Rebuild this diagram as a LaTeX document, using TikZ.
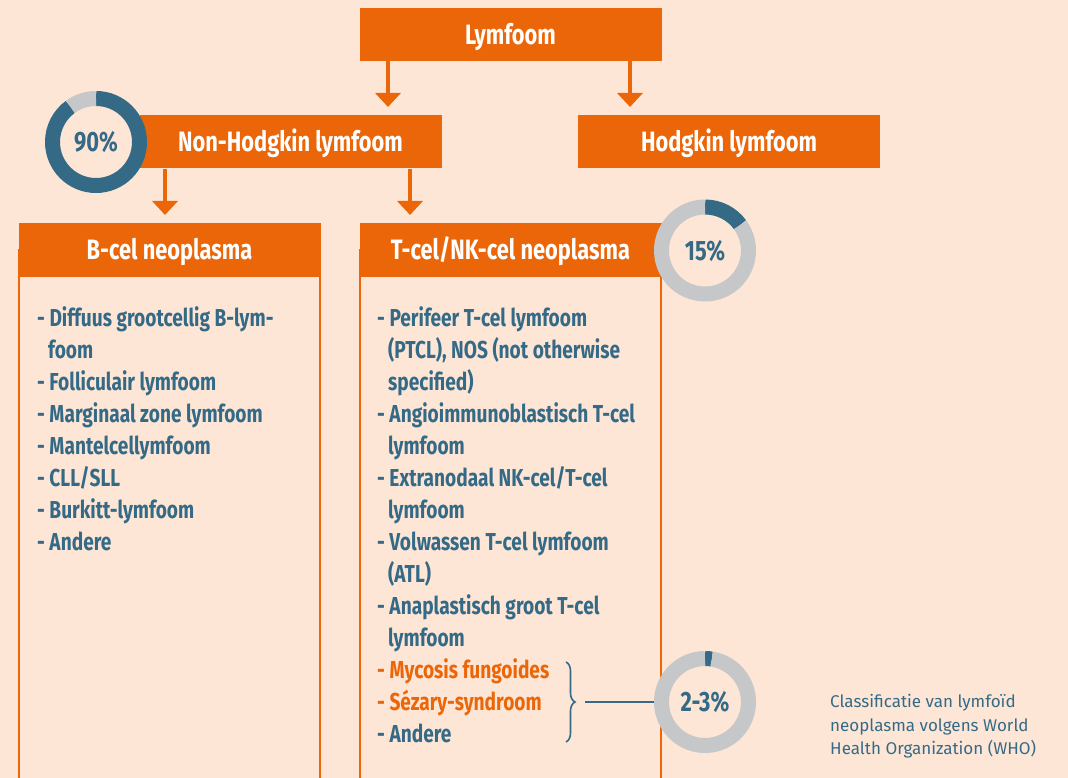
\documentclass[tikz,border=0pt]{standalone}
\usepackage{fontspec}
\setmainfont{Fira Sans}[FakeStretch=0.78]
\newfontfamily\capfont{Fira Sans}
\usetikzlibrary{arrows.meta,decorations.pathreplacing}
\definecolor{bg}{HTML}{FDE6D6}
\definecolor{org}{HTML}{EB6608}
\definecolor{blu}{HTML}{356A87}
\definecolor{gry}{HTML}{C5C7C8}
\tikzset{
  hdr/.style={rectangle, fill=org, text=white, minimum width=302pt, minimum height=53pt, inner sep=0pt,
    text height=19.5pt, text depth=0pt, font=\bfseries\fontsize{28}{32}\selectfont},
  body/.style={draw=org, line width=1.3pt},
  arr/.style={draw=org, line width=4pt, -{Triangle[width=25pt,length=14pt]}},
  lst/.style={anchor=north west, inner sep=0pt, align=left, text=blu,
    font=\bfseries\fontsize{24.5}{32}\selectfont},
  pct/.style={circle, inner sep=0pt, minimum size=102pt, text=blu, text height=19pt, text depth=0pt,
    font=\bfseries\fontsize{28}{30}\selectfont},
  ring/.style={line width=15pt},
}
\begin{document}
\begin{tikzpicture}[x=1pt,y=-1pt]
\useasboundingbox (0,0) rectangle (1068,778);
\clip (0,0) rectangle (1068,778);
\fill[bg] (0,0) rectangle (1068,778);

% body outlines
\draw[body] (19,250) rectangle (320,800);
\draw[body] (360,250) rectangle (661,800);

% header boxes
\node[hdr] (lym) at (510.5,34.5) {Lymfoom};
\node[hdr] (nhl) at (290.5,142) {Non-Hodgkin lymfoom};
\node[hdr] (hl) at (729,142) {Hodgkin lymfoom};
\node[hdr] (bcel) at (169.5,250) {B-cel neoplasma};
\node[hdr] (tcel) at (510.5,250) {T-cel/NK-cel neoplasma};

% arrows
\coordinate (a1) at (388,107);
\coordinate (a2) at (630,107);
\coordinate (a3) at (165,215);
\coordinate (a4) at (410,215);
\draw[arr] (lym.south -| a1) -- (a1);
\draw[arr] (lym.south -| a2) -- (a2);
\draw[arr] (nhl.south -| a3) -- (a3);
\draw[arr] (nhl.south -| a4) -- (a4);

% donuts
\node[pct] (d90) at (96,142) {90\%};
\draw[ring, blu] (d90.center) ++(-90:43.5) arc[start angle=-90, end angle=234, radius=43.5];
\draw[ring, gry] (d90.center) ++(234:43.5) arc[start angle=234, end angle=270, radius=43.5];

\node[pct] (d15) at (705,250.5) {15\%};
\draw[ring, blu] (d15.center) ++(-90:43.5) arc[start angle=-90, end angle=-36, radius=43.5];
\draw[ring, gry] (d15.center) ++(-36:43.5) arc[start angle=-36, end angle=270, radius=43.5];

\node[pct] (d23) at (705,702) {2-3\%};
\draw[ring, blu] (d23.center) ++(-90:43.5) arc[start angle=-90, end angle=-81, radius=43.5];
\draw[ring, gry] (d23.center) ++(-81:43.5) arc[start angle=-81, end angle=270, radius=43.5];

% lists
\node[lst] (blist) at (37,306) {%
- Diffuus grootcellig B-lym-\\
\hspace*{11pt}foom\\
- Folliculair lymfoom\\
- Marginaal zone lymfoom\\
- Mantelcellymfoom\\
- CLL/SLL\\
- Burkitt-lymfoom\\
- Andere};

\node[lst] (tlist) at (377,306) {%
- Perifeer T-cel lymfoom\\
\hspace*{11pt}(PTCL), NOS (not otherwise\\
\hspace*{11pt}specified)\\
- Angioimmunoblastisch T-cel\\
\hspace*{11pt}lymfoom\\
- Extranodaal NK-cel/T-cel\\
\hspace*{11pt}lymfoom\\
- Volwassen T-cel lymfoom\\
\hspace*{11pt}(ATL)\\
- Anaplastisch groot T-cel\\
\hspace*{11pt}lymfoom\\
{\color{org}- Mycosis fungoides}\\
{\color{org}- Sézary-syndroom}\\
- Andere};

% brace and connector
\coordinate (bt) at (566,662);
\coordinate (bb) at (566,742);
\draw[blu, line width=1.6pt, decorate, decoration={brace, amplitude=9pt}] (bt) -- (bb);
\coordinate (bm) at (585,702);
\draw[blu, line width=1.6pt] (bm) -- (d23.west);

% caption
\node[anchor=north west, inner sep=0pt, align=left, text=blu, font=\capfont\fontsize{17}{23.7}\selectfont] (cap) at (830,694) {%
Classificatie van lymfoïd\\neoplasma volgens World\\Health Organization (WHO)};
\end{tikzpicture}
\end{document}
